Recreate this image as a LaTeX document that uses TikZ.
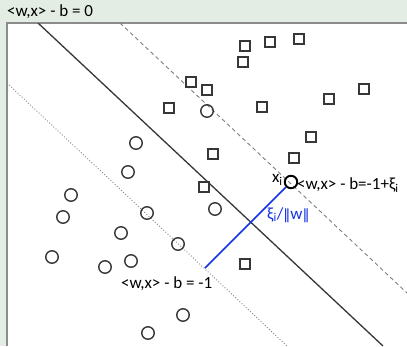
\documentclass[tikz,border=0pt]{standalone}
\usepackage{fontspec}
\setmainfont{Carlito}
\newfontfamily\barfont{DejaVu Sans}
\usetikzlibrary{positioning,calc}
\definecolor{panelgreen}{RGB}{228,237,227}
\definecolor{framegray}{RGB}{140,140,140}
\definecolor{pointgray}{RGB}{55,55,55}
\definecolor{slackblue}{RGB}{20,50,230}
\newcommand{\normbar}{{\barfont\fontsize{14}{14}\selectfont ‖}}

\begin{document}
\begin{tikzpicture}[
 x=1pt, y=-1pt,
 possample/.style={rectangle, draw=pointgray, line width=1.9pt, minimum size=10pt, inner sep=0pt},
 negsample/.style={circle, draw=pointgray, line width=1.4pt, minimum size=12.5pt, inner sep=0pt},
 eqlabel/.style={font=\fontsize{17}{18}\selectfont, inner sep=0pt}
]
\useasboundingbox (0,0) rectangle (407,346);

% Panel
\fill[panelgreen] (0,0) rectangle (407,346);
\fill[white] (7,23) rectangle (407,346);
\draw[framegray, line width=1.6pt] (7,346) -- (7,23) -- (407,23);

% Hyperplanes
\begin{scope}
 \clip (7,23) rectangle (407,346);
 \coordinate (mid_a) at (38,23);
 \coordinate (mid_b) at (383,346);
 \coordinate (up_a) at (120,23);
 \coordinate (up_b) at (440,324);
 \coordinate (lo_a) at (7,83);
 \coordinate (lo_b) at (287,346);
 \draw[pointgray, line width=1.3pt] (mid_a) -- (mid_b);
 \draw[gray, line width=0.9pt, dash pattern=on 4pt off 3pt] (up_a) -- (up_b);
 \draw[gray, line width=0.9pt, dotted] (lo_a) -- (lo_b);
\end{scope}

% Class +1
\foreach \px/\py [count=\i] in {245/46, 270/42, 299/39, 243/62, 191/82, 207/90, 169/108,
 262/107, 329/99, 364/89, 311/137, 213/154, 294/158, 204/187, 245/264}
 \node[possample] (sq\i) at (\px,\py) {};

% Class -1
\foreach \px/\py [count=\i] in {207/111, 136/143, 128/172, 71/195, 63/217, 147/213, 215/209,
 121/233, 178/244, 52/257, 105/267, 131/261, 183/315, 148/333}
 \node[negsample] (ci\i) at (\px,\py) {};

% Slack sample
\node[negsample, draw=black, line width=1.9pt] (xi) at (291,182) {};
\coordinate (xi_foot) at (205,268);
\draw[slackblue, line width=1.6pt] (xi) -- (xi_foot);

% Labels
\node[eqlabel, anchor=west] (eq_zero) at (7,12) {<w,x> - b = 0};
\node[eqlabel, anchor=east, left=1pt of xi, yshift=2pt] (xi_name) {x\textsubscript{i}};
\node[eqlabel, anchor=west] (eq_slack) at (297,185) {<w,x> - b=-1+ξ\textsubscript{i}};
\node[eqlabel, anchor=west, text=slackblue] (slack_dist) at (267,215) {ξ\textsubscript{i}/\normbar w\normbar};
\node[eqlabel, anchor=west] (eq_minus) at (121,284) {<w,x> - b = -1};

\end{tikzpicture}
\end{document}
